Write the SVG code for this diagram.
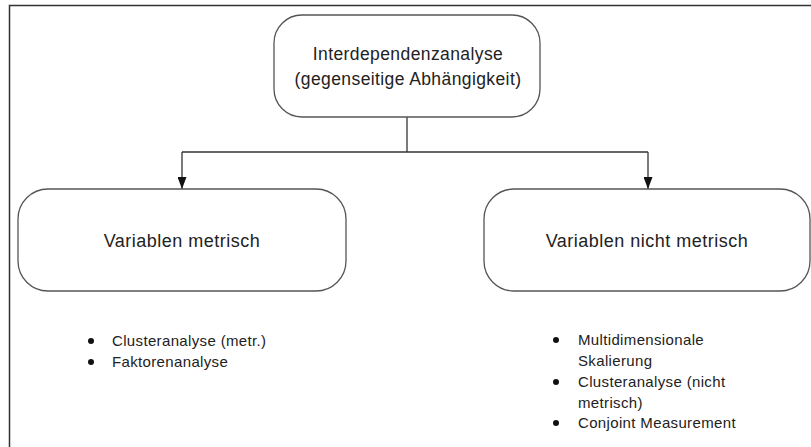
<svg xmlns="http://www.w3.org/2000/svg" width="811" height="447" viewBox="0 0 811 447">
<defs>
<style>
.box{fill:#fff;stroke:#555;stroke-width:1.3}
.t{font-family:"Liberation Sans",Arial,sans-serif;fill:#222}
.hd{font-size:17.5px;letter-spacing:0.4px}
.big{font-size:18px;letter-spacing:0.5px}
.sm{font-size:15px;letter-spacing:0.35px}
.conn{fill:none;stroke:#333;stroke-width:1.3}
</style>
<marker id="ah" viewBox="0 0 12 9" refX="12" refY="4.5" markerWidth="12" markerHeight="9" markerUnits="userSpaceOnUse" orient="auto">
<path d="M0,0 L12,4.5 L0,9 z" fill="#111"/>
</marker>
</defs>
<rect width="811" height="447" fill="#fff"/>
<path d="M9.5,447 V5.5 H811" fill="none" stroke="#333" stroke-width="1.5"/>
<g id="connectors">
<path class="conn" d="M407,117 V152"/>
<path class="conn" d="M182,152 H648"/>
<path class="conn" d="M182,152 V189" marker-end="url(#ah)"/>
<path class="conn" d="M648,152 V189" marker-end="url(#ah)"/>
</g>
<g id="top">
<rect class="box" x="274" y="15" width="266" height="102" rx="28"/>
<text class="t hd" x="408" y="60" text-anchor="middle">Interdependenzanalyse</text>
<text class="t hd" x="408" y="85" text-anchor="middle">(gegenseitige Abhängigkeit)</text>
</g>
<g id="left">
<rect class="box" x="18" y="189" width="328" height="102" rx="30"/>
<text class="t big" x="182" y="247" text-anchor="middle">Variablen metrisch</text>
</g>
<g id="right">
<rect class="box" x="484" y="189" width="326" height="102" rx="30"/>
<text class="t big" x="647" y="247" text-anchor="middle">Variablen nicht metrisch</text>
</g>
<g id="left-list" class="t sm">
<circle cx="91" cy="341" r="3" fill="#111"/>
<text x="112" y="346">Clusteranalyse (metr.)</text>
<circle cx="91" cy="362" r="3" fill="#111"/>
<text x="112" y="367">Faktorenanalyse</text>
</g>
<g id="right-list" class="t sm">
<circle cx="556" cy="340" r="3" fill="#111"/>
<text x="578" y="345">Multidimensionale</text>
<text x="578" y="366">Skalierung</text>
<circle cx="556" cy="382" r="3" fill="#111"/>
<text x="578" y="387">Clusteranalyse (nicht</text>
<text x="578" y="408">metrisch)</text>
<circle cx="556" cy="423" r="3" fill="#111"/>
<text x="578" y="428">Conjoint Measurement</text>
</g>
</svg>
